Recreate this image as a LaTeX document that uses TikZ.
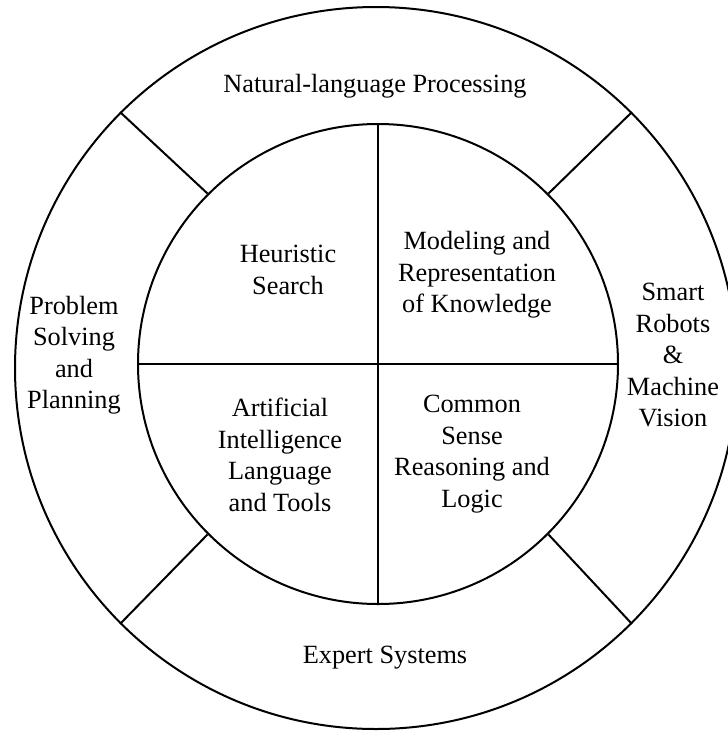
\documentclass[tikz,border=0pt]{standalone}
\usepackage{fontspec}
\setmainfont{Liberation Serif}
\usepackage{tikz}
\usetikzlibrary{shapes}
\tikzstyle{ring}=[circle,draw,line width=2pt,inner sep=0pt]
\tikzstyle{area}=[align=center,inner sep=0pt,font=\fontsize{26.3}{31.5}\selectfont]
\tikzstyle{edge} = [draw,line width=2pt,-]

\begin{document}
\begin{tikzpicture}[x=1pt,y=-1pt]
    \useasboundingbox (0,0) rectangle (728,732);
    % Draw the outer and inner rings
    \node[ring,minimum size=722pt] (outer) at (376,368) {};
    \node[ring,minimum size=480pt] (inner) at (378,364) {};

    % Then the text of each area
    \foreach \pos/\name/\text in {{(375,86)/nlp/{Natural-language Processing}},
        {(74,355)/planning/{Problem\\Solving\\and\\Planning}},
        {(673,355)/robots/{Smart\\Robots\\\&\\Machine\\Vision}},
        {(385,658)/expert/{Expert Systems}},
        {(288,270)/search/{Heuristic\\Search}},
        {(477,275)/knowledge/{Modeling and\\Representation\\of Knowledge}},
        {(280,455)/tools/{Artificial\\Intelligence\\Language\\and Tools}},
        {(472,454)/logic/{Common\\Sense\\Reasoning and\\Logic}}}
        \node[area] (\name) at \pos {\text};

    % Connect the rings, then split the inner one
    \foreach \angle in {45,135,225,315}
        \path[edge] (inner.\angle) -- (outer.\angle);
    \path[edge] (inner.north) -- (inner.south);
    \path[edge] (inner.west) -- (inner.east);
\end{tikzpicture}
\end{document}
